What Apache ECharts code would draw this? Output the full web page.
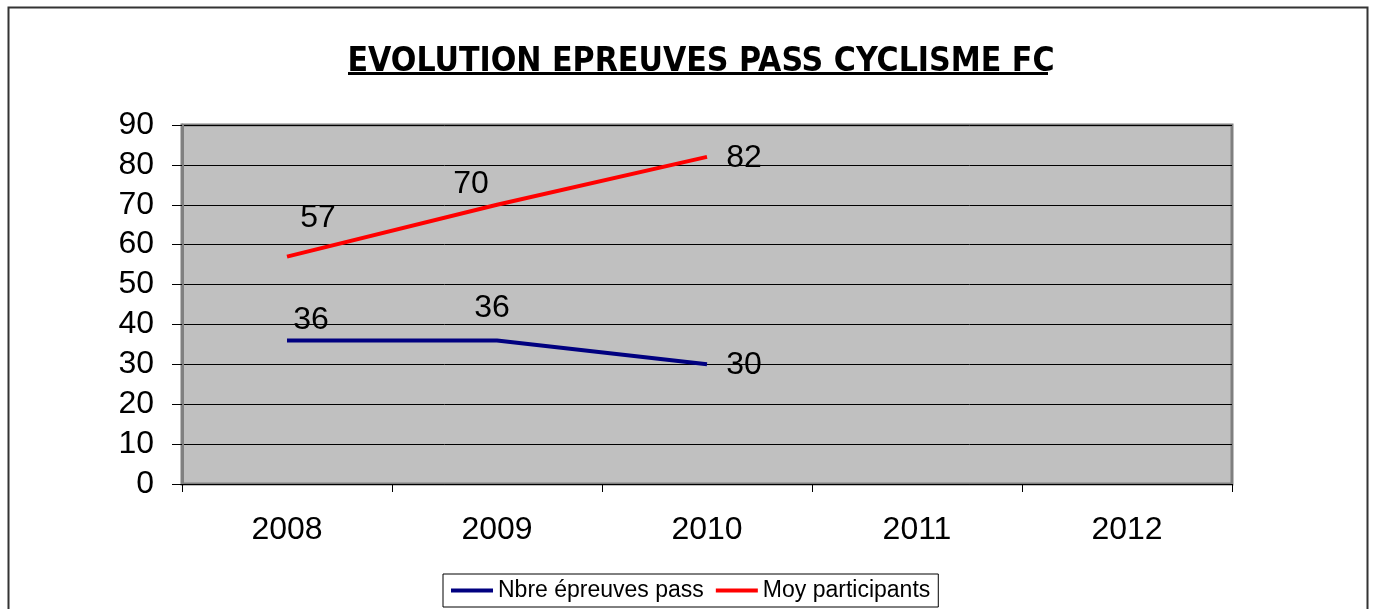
<!DOCTYPE html>
<html><head><meta charset="utf-8">
<script src="https://cdn.jsdelivr.net/npm/echarts@6/dist/echarts.min.js"></script>
<style>html,body{margin:0;padding:0;background:#fff}#c{width:1375px;height:609px}</style>
</head><body><div id="c"></div>
<script>
const categories = ['2008', '2009', '2010', '2011', '2012'];
const nbreEpreuves = [36, 36, 30, null, null];
const moyParticipants = [57, 70, 82, null, null];
const yTicks = [0, 10, 20, 30, 40, 50, 60, 70, 80, 90];

const blueOffsets = [[24, -20], [-5, -32], [37, 1]];
const redOffsets = [[31, -38], [-26, -21], [37, 1]];

function withLabels(values, offsets) {
  return values.map((v, i) => {
    if (v == null) return v;
    return { value: v, label: { show: true, position: 'inside', offset: offsets[i] } };
  });
}

const labelFont = { fontFamily: 'Liberation Sans', fontSize: 32, color: '#000' };

const chart = echarts.init(document.getElementById('c'), null, { renderer: 'canvas' });
chart.setOption({
  animation: false,
  backgroundColor: '#ffffff',
  title: {
    text: 'EVOLUTION EPREUVES PASS CYCLISME FC',
    left: 696, top: 40, textAlign: 'center',
    textStyle: { fontFamily: 'DejaVu Sans Condensed', fontWeight: 'bold', fontSize: 33.5, color: '#000' }
  },
  graphic: [
    { type: 'rect', shape: { x: 8.5, y: 7.5, width: 1359, height: 620 }, style: { fill: null, stroke: '#333', lineWidth: 2 }, silent: true },
    { type: 'line', shape: { x1: 348, y1: 73.5, x2: 1048, y2: 73.5 }, style: { stroke: '#000', lineWidth: 3 }, silent: true }
  ],
  legend: {
    bottom: 2, left: 443,
    itemWidth: 42, itemHeight: 4, itemGap: 12,
    padding: [5, 8, 5, 8],
    borderColor: '#000', borderWidth: 1, backgroundColor: '#fff',
    textStyle: { fontFamily: 'Liberation Sans', fontSize: 23, color: '#000', padding: [0, 0, 0, 0] },
    icon: 'rect'
  },
  grid: {
    left: 182, right: 143, top: 125, bottom: 125,
    show: true, backgroundColor: '#c0c0c0', borderColor: '#808080', borderWidth: 3
  },
  xAxis: {
    type: 'category', data: categories, boundaryGap: true,
    axisLine: { show: true, lineStyle: { color: '#000', width: 1 } },
    axisTick: { show: true, interval: 0, length: 8, lineStyle: { color: '#000' } },
    axisLabel: Object.assign({ margin: 30 }, labelFont)
  },
  yAxis: {
    type: 'value', min: yTicks[0], max: yTicks[yTicks.length - 1], interval: 10,
    axisLine: { show: true, lineStyle: { color: '#808080', width: 3 } },
    axisTick: { show: true, length: 10, lineStyle: { color: '#000' } },
    axisLabel: Object.assign({ margin: 28 }, labelFont),
    splitLine: { show: true, lineStyle: { color: '#000', width: 1 } }
  },
  series: [
    {
      name: 'Nbre épreuves pass', type: 'line', data: withLabels(nbreEpreuves, blueOffsets),
      symbol: 'circle', symbolSize: 0, showSymbol: true,
      lineStyle: { color: '#000080', width: 4 }, itemStyle: { color: '#000080' },
      label: Object.assign({ show: true }, labelFont)
    },
    {
      name: 'Moy participants', type: 'line', data: withLabels(moyParticipants, redOffsets),
      symbol: 'circle', symbolSize: 0, showSymbol: true,
      lineStyle: { color: '#ff0000', width: 4 }, itemStyle: { color: '#ff0000' },
      label: Object.assign({ show: true }, labelFont)
    }
  ]
});
</script></body></html>
